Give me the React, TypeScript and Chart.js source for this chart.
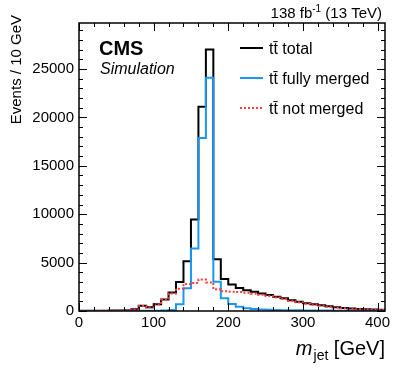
import React, { useEffect, useRef } from 'react';
import { Chart, registerables } from 'chart.js';

Chart.register(...registerables);

// Histogram bins (lower edges, GeV), 10 GeV wide
const binLowEdges = [
  0, 10, 20, 30, 40, 50, 60, 70, 80, 90,
  100, 110, 120, 130, 140, 150, 160, 170, 180, 190,
  200, 210, 220, 230, 240, 250, 260, 270, 280, 290,
  300, 310, 320, 330, 340, 350, 360, 370, 380, 390,
  400,
];
const binWidth = 10;

const totalCounts = [
  20, 20, 20, 30, 40, 60, 90, 175, 550, 400,
  700, 1200, 1900, 3000, 5150, 9450, 21100, 27000, 5350, 3300,
  2750, 2380, 2150, 1990, 1820, 1650, 1480, 1310, 1100, 960,
  800, 700, 600, 500, 390, 310, 250, 200, 170, 150,
  130,
];
const fullyMergedCounts = [
  10, 10, 10, 10, 10, 15, 15, 20, 25, 25,
  30, 40, 100, 690, 2340, 6460, 17870, 24100, 3020, 1310,
  720, 450, 290, 200, 150, 120, 100, 90, 80, 70,
  60, 50, 45, 40, 35, 30, 30, 25, 25, 20,
  20,
];
const notMergedCounts = [
  10, 10, 10, 20, 30, 45, 70, 160, 520, 370,
  670, 1160, 1800, 2300, 2800, 2900, 3250, 2950, 2250, 2050,
  2000, 1950, 1880, 1790, 1680, 1550, 1400, 1240, 1040, 900,
  750, 650, 550, 450, 350, 280, 220, 180, 150, 130,
  110,
];

const xTickValues = [0, 100, 200, 300, 400];
const yTickValues = [0, 5000, 10000, 15000, 20000, 25000];
const legendLabels = ['t\u0074\u0304 total', 't\u0074\u0304 fully merged', 't\u0074\u0304 not merged'];
const seriesColors = ['#000000', '#1a96f0', '#ff3b3b'];

const X_MAX = 410;
const Y_MAX = 29750;
const FONT = "'Liberation Sans', Arial, Helvetica, sans-serif";

function toSteps(counts: number[]) {
  const pts = binLowEdges.map((x, i) => ({ x, y: counts[i] }));
  const last = binLowEdges.length - 1;
  pts.push({ x: binLowEdges[last] + binWidth, y: counts[last] });
  return pts;
}

const framePlugin = {
  id: 'frameTicks',
  afterDatasetsDraw(chart: any) {
    const { ctx, chartArea } = chart;
    const { left, right, top, bottom } = chartArea;
    const xs = chart.scales.x;
    const ys = chart.scales.y;
    ctx.save();
    ctx.strokeStyle = '#000';
    ctx.lineWidth = 1.5;
    ctx.strokeRect(left, top, right - left, bottom - top);
    ctx.lineWidth = 1;
    ctx.beginPath();
    for (let v = 0; v <= X_MAX; v += 20) {
      const px = Math.round(xs.getPixelForValue(v)) + 0.5;
      const len = v % 100 === 0 ? 8 : 4;
      ctx.moveTo(px, bottom);
      ctx.lineTo(px, bottom - len);
      ctx.moveTo(px, top);
      ctx.lineTo(px, top + len);
    }
    for (let v = 0; v <= Y_MAX; v += 1000) {
      const py = Math.round(ys.getPixelForValue(v)) + 0.5;
      const len = v % 5000 === 0 ? 8 : 4;
      ctx.moveTo(left, py);
      ctx.lineTo(left + len, py);
      ctx.moveTo(right, py);
      ctx.lineTo(right - len, py);
    }
    ctx.stroke();
    ctx.restore();
  },
};

const textPlugin = {
  id: 'texts',
  afterDraw(chart: any) {
    const { ctx, chartArea } = chart;
    const { right } = chartArea;
    ctx.save();
    ctx.fillStyle = '#000';
    ctx.textBaseline = 'alphabetic';

    // Header: 138 fb^-1 (13 TeV)
    {
      const big = `15px ${FONT}`;
      const small = `10px ${FONT}`;
      const p1 = '138 fb';
      const p2 = '-1';
      const p3 = ' (13 TeV)';
      ctx.font = big;
      const w1 = ctx.measureText(p1).width;
      const w3 = ctx.measureText(p3).width;
      ctx.font = small;
      const w2 = ctx.measureText(p2).width;
      const xEnd = right - 3;
      let x = xEnd - (w1 + w2 + w3);
      const base = 18;
      ctx.textAlign = 'left';
      ctx.font = big;
      ctx.fillText(p1, x, base);
      x += w1;
      ctx.font = small;
      ctx.fillText(p2, x, base - 6);
      x += w2;
      ctx.font = big;
      ctx.fillText(p3, x, base);
    }

    // CMS Simulation
    ctx.textAlign = 'left';
    ctx.font = `bold 20px ${FONT}`;
    ctx.fillText('CMS', 99, 55);
    ctx.font = `italic 16px ${FONT}`;
    ctx.fillText('Simulation', 100, 74);

    // Legend
    const legendY = [48, 78, 108];
    legendLabels.forEach((label, i) => {
      const y = legendY[i];
      ctx.save();
      ctx.strokeStyle = seriesColors[i];
      ctx.lineWidth = 2;
      if (i === 2) ctx.setLineDash([2, 2]);
      ctx.beginPath();
      ctx.moveTo(240, y);
      ctx.lineTo(263, y);
      ctx.stroke();
      ctx.restore();
      ctx.font = `16px ${FONT}`;
      ctx.fillText(label, 269, y + 5.5);
    });

    // Y axis title
    ctx.save();
    ctx.translate(21, 15);
    ctx.rotate(-Math.PI / 2);
    ctx.textAlign = 'right';
    ctx.font = `15px ${FONT}`;
    ctx.fillText('Events / 10 GeV', 0, 0);
    ctx.restore();

    // X axis title: m_jet [GeV]
    {
      const mFont = `italic 20px ${FONT}`;
      const subFont = `14px ${FONT}`;
      const uFont = `20px ${FONT}`;
      ctx.font = mFont;
      const wm = ctx.measureText('m').width;
      ctx.font = subFont;
      const ws = ctx.measureText('jet').width;
      ctx.font = uFont;
      const wu = ctx.measureText(' [GeV]').width;
      let x = right - (wm + ws + wu + 1);
      const base = 355;
      ctx.textAlign = 'left';
      ctx.font = mFont;
      ctx.fillText('m', x, base);
      x += wm + 1;
      ctx.font = subFont;
      ctx.fillText('jet', x, base + 5);
      x += ws;
      ctx.font = uFont;
      ctx.fillText(' [GeV]', x, base);
    }
    ctx.restore();
  },
};

export default function App() {
  const canvasRef = useRef<HTMLCanvasElement | null>(null);

  useEffect(() => {
    document.body.style.margin = '0';
    const canvas = canvasRef.current;
    if (!canvas) return;
    const chart = new Chart(canvas, {
      type: 'line',
      data: {
        datasets: [
          {
            label: legendLabels[0],
            data: toSteps(totalCounts),
            borderColor: seriesColors[0],
            borderWidth: 2,
            stepped: 'before',
            pointRadius: 0,
            fill: false,
            order: 2,
          },
          {
            label: legendLabels[1],
            data: toSteps(fullyMergedCounts),
            borderColor: seriesColors[1],
            borderWidth: 2,
            stepped: 'before',
            pointRadius: 0,
            fill: false,
            order: 1,
          },
          {
            label: legendLabels[2],
            data: toSteps(notMergedCounts),
            borderColor: seriesColors[2],
            borderWidth: 2,
            borderDash: [2, 2],
            stepped: 'before',
            pointRadius: 0,
            fill: false,
            order: 0,
          },
        ],
      },
      options: {
        responsive: false,
        animation: false,
        layout: { padding: { left: 0, right: 22, top: 23, bottom: 0 } },
        plugins: {
          legend: { display: false },
          tooltip: { enabled: false },
          title: { display: false },
        },
        scales: {
          x: {
            type: 'linear',
            min: 0,
            max: X_MAX,
            grid: { display: false, drawTicks: false },
            border: { display: false },
            afterBuildTicks: (scale: any) => {
              scale.ticks = xTickValues.map((v) => ({ value: v }));
            },
            afterFit: (scale: any) => {
              scale.height = 59;
            },
            ticks: {
              color: '#000',
              font: { family: FONT, size: 15 },
              padding: 3,
              maxRotation: 0,
              autoSkip: false,
            },
          },
          y: {
            type: 'linear',
            min: 0,
            max: Y_MAX,
            grid: { display: false, drawTicks: false },
            border: { display: false },
            afterBuildTicks: (scale: any) => {
              scale.ticks = yTickValues.map((v) => ({ value: v }));
            },
            afterFit: (scale: any) => {
              scale.width = 79;
            },
            ticks: {
              color: '#000',
              font: { family: FONT, size: 15 },
              padding: 5,
              autoSkip: false,
              callback: (v: any) => String(v),
            },
          },
        },
      },
      plugins: [framePlugin, textPlugin],
    });
    return () => chart.destroy();
  }, []);

  return (
    <div style={{ position: 'absolute', left: 0, top: 0, width: 407, height: 370, background: '#fff' }}>
      <canvas ref={canvasRef} width={407} height={370} />
    </div>
  );
}
